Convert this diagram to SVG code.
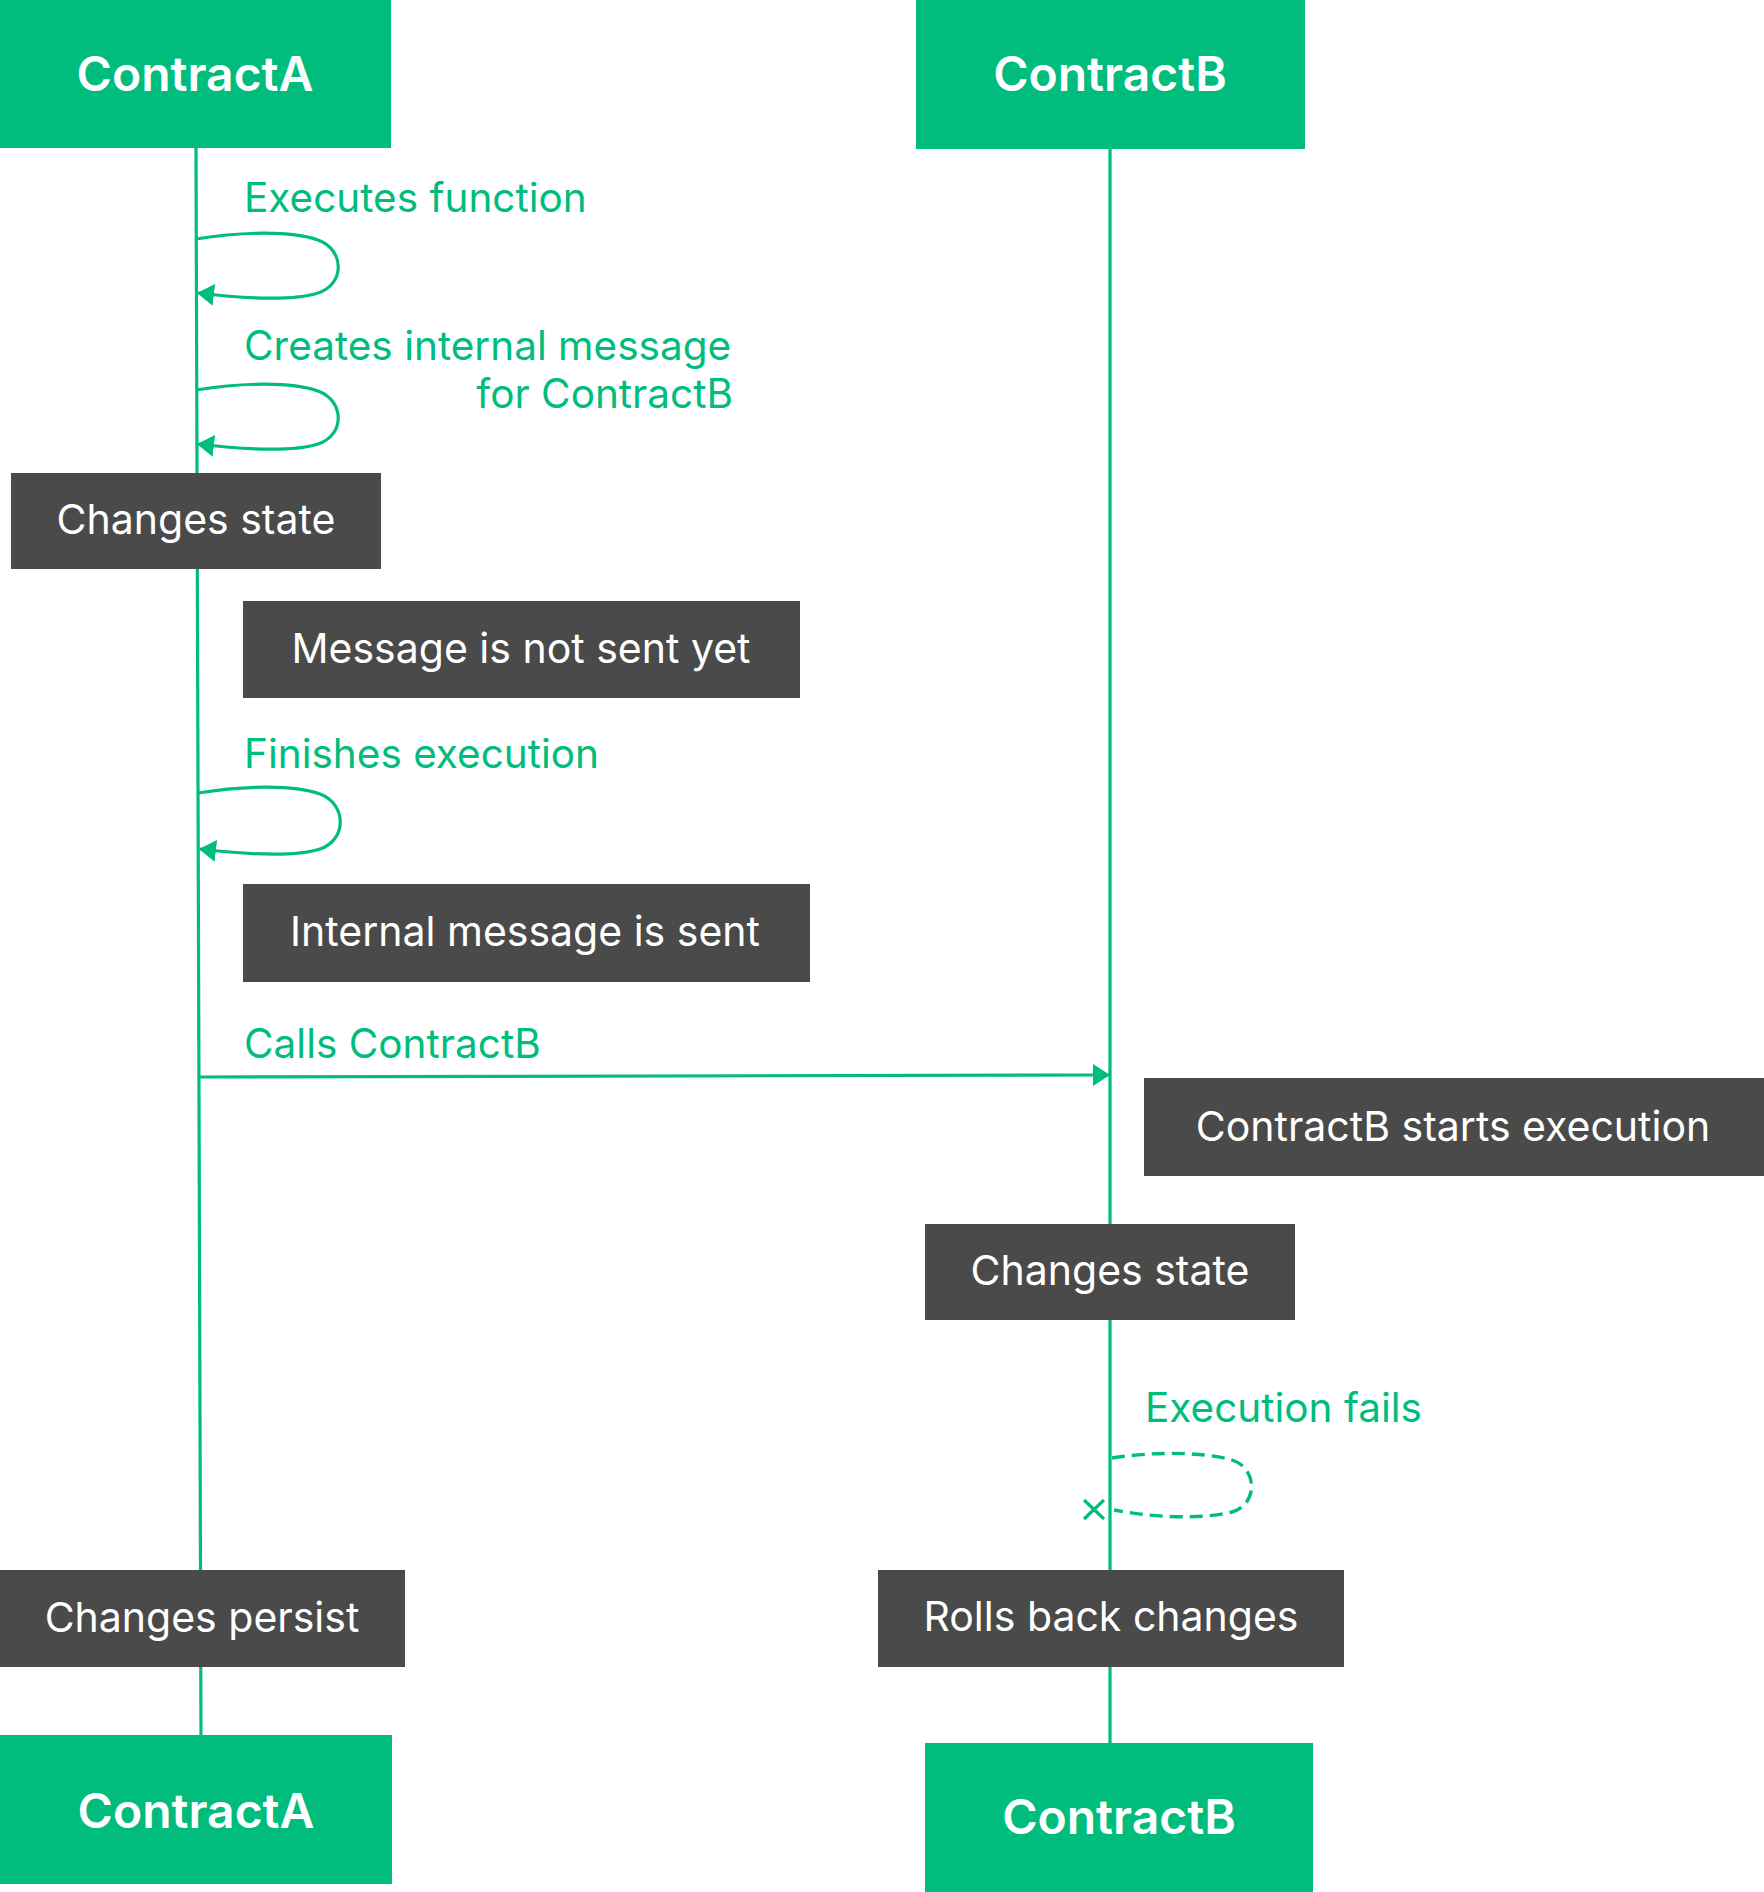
<svg xmlns="http://www.w3.org/2000/svg" width="1764" height="1892" viewBox="0 0 1764 1892">
<style>
.hdr{fill:#00BC7D}
.box{fill:#494A49}
.ht{font-family:Inter,"Liberation Sans",sans-serif;font-size:48px;font-weight:600;fill:#fff;text-anchor:middle}
.bt{font-family:Inter,"Liberation Sans",sans-serif;font-size:41px;fill:#fff;text-anchor:middle}
.gl{font-family:Inter,"Liberation Sans",sans-serif;font-size:40.5px;fill:#00BC7D}
.ln{fill:none;stroke:#00BC7D;stroke-width:3.2}
.dash{fill:none;stroke:#00BC7D;stroke-width:3.4;stroke-dasharray:13 7}
</style>
<defs>
<marker id="arr" viewBox="0 0 17 22" refX="16" refY="11" markerWidth="17" markerHeight="22" markerUnits="userSpaceOnUse" orient="auto">
<path d="M0,0 L17,11 L0,22 z" fill="#00BC7D"/>
</marker>
</defs>
<rect width="1764" height="1892" fill="#fff"/>
<g id="connectors">
<line id="lifeline-a" class="ln" x1="196" y1="148" x2="201" y2="1736"/>
<line id="lifeline-b" class="ln" x1="1110" y1="149" x2="1110" y2="1744"/>
<path id="loop-executes" class="ln" marker-end="url(#arr)" d="M196,239 C240,232 290,230 318,240 C345,250 345,284 318,293 C290,302 240,298 198,293"/>
<path id="loop-creates" class="ln" marker-end="url(#arr)" d="M196,390 C240,383 290,381 318,391 C345,401 345,435 318,444 C290,453 240,449 198,444"/>
<path id="loop-finishes" class="ln" marker-end="url(#arr)" d="M198,793 C242,786 292,784 320,794 C347,804 347,840 320,849 C292,858 242,854 200,849"/>
<line id="call-b" class="ln" marker-end="url(#arr)" x1="198" y1="1077" x2="1109" y2="1075"/>
<path id="loop-fails" class="dash" d="M1112,1458 C1150,1452 1200,1451 1232,1460 C1258,1468 1258,1505 1232,1512 C1200,1520 1150,1517 1114,1510"/>
<path id="fail-x" fill="none" stroke="#00BC7D" stroke-width="3.2" d="M1084,1500 L1104,1519 M1104,1500 L1084,1519"/>
</g>
<g id="label-executes"><text class="gl" x="244" y="212">Executes function</text></g>
<g id="label-creates"><text class="gl" x="244" y="360">Creates internal message</text><text class="gl" x="733" y="408" text-anchor="end">for ContractB</text></g>
<g id="label-finishes"><text class="gl" x="244" y="768">Finishes execution</text></g>
<g id="label-calls"><text class="gl" x="244" y="1058">Calls ContractB</text></g>
<g id="label-fails"><text class="gl" x="1145" y="1422">Execution fails</text></g>
<g id="contractA-top"><rect class="hdr" x="0" y="0" width="391" height="148"/><text class="ht" x="195" y="91">ContractA</text></g>
<g id="contractB-top"><rect class="hdr" x="916" y="0" width="389" height="149"/><text class="ht" x="1110" y="91">ContractB</text></g>
<g id="changes-state-a"><rect class="box" x="11" y="473" width="370" height="96"/><text class="bt" x="196" y="534">Changes state</text></g>
<g id="not-sent"><rect class="box" x="243" y="601" width="557" height="97"/><text class="bt" x="521" y="663">Message is not sent yet</text></g>
<g id="is-sent"><rect class="box" x="243" y="884" width="567" height="98"/><text class="bt" x="525" y="946">Internal message is sent</text></g>
<g id="b-starts"><rect class="box" x="1144" y="1078" width="620" height="98"/><text class="bt" x="1453" y="1141">ContractB starts execution</text></g>
<g id="changes-state-b"><rect class="box" x="925" y="1224" width="370" height="96"/><text class="bt" x="1110" y="1285">Changes state</text></g>
<g id="rolls-back"><rect class="box" x="878" y="1570" width="466" height="97"/><text class="bt" x="1111" y="1631">Rolls back changes</text></g>
<g id="persist"><rect class="box" x="0" y="1570" width="405" height="97"/><text class="bt" x="202" y="1632">Changes persist</text></g>
<g id="contractA-bottom"><rect class="hdr" x="0" y="1735" width="392" height="149"/><text class="ht" x="196" y="1828">ContractA</text></g>
<g id="contractB-bottom"><rect class="hdr" x="925" y="1743" width="388" height="149"/><text class="ht" x="1119" y="1834">ContractB</text></g>
</svg>
